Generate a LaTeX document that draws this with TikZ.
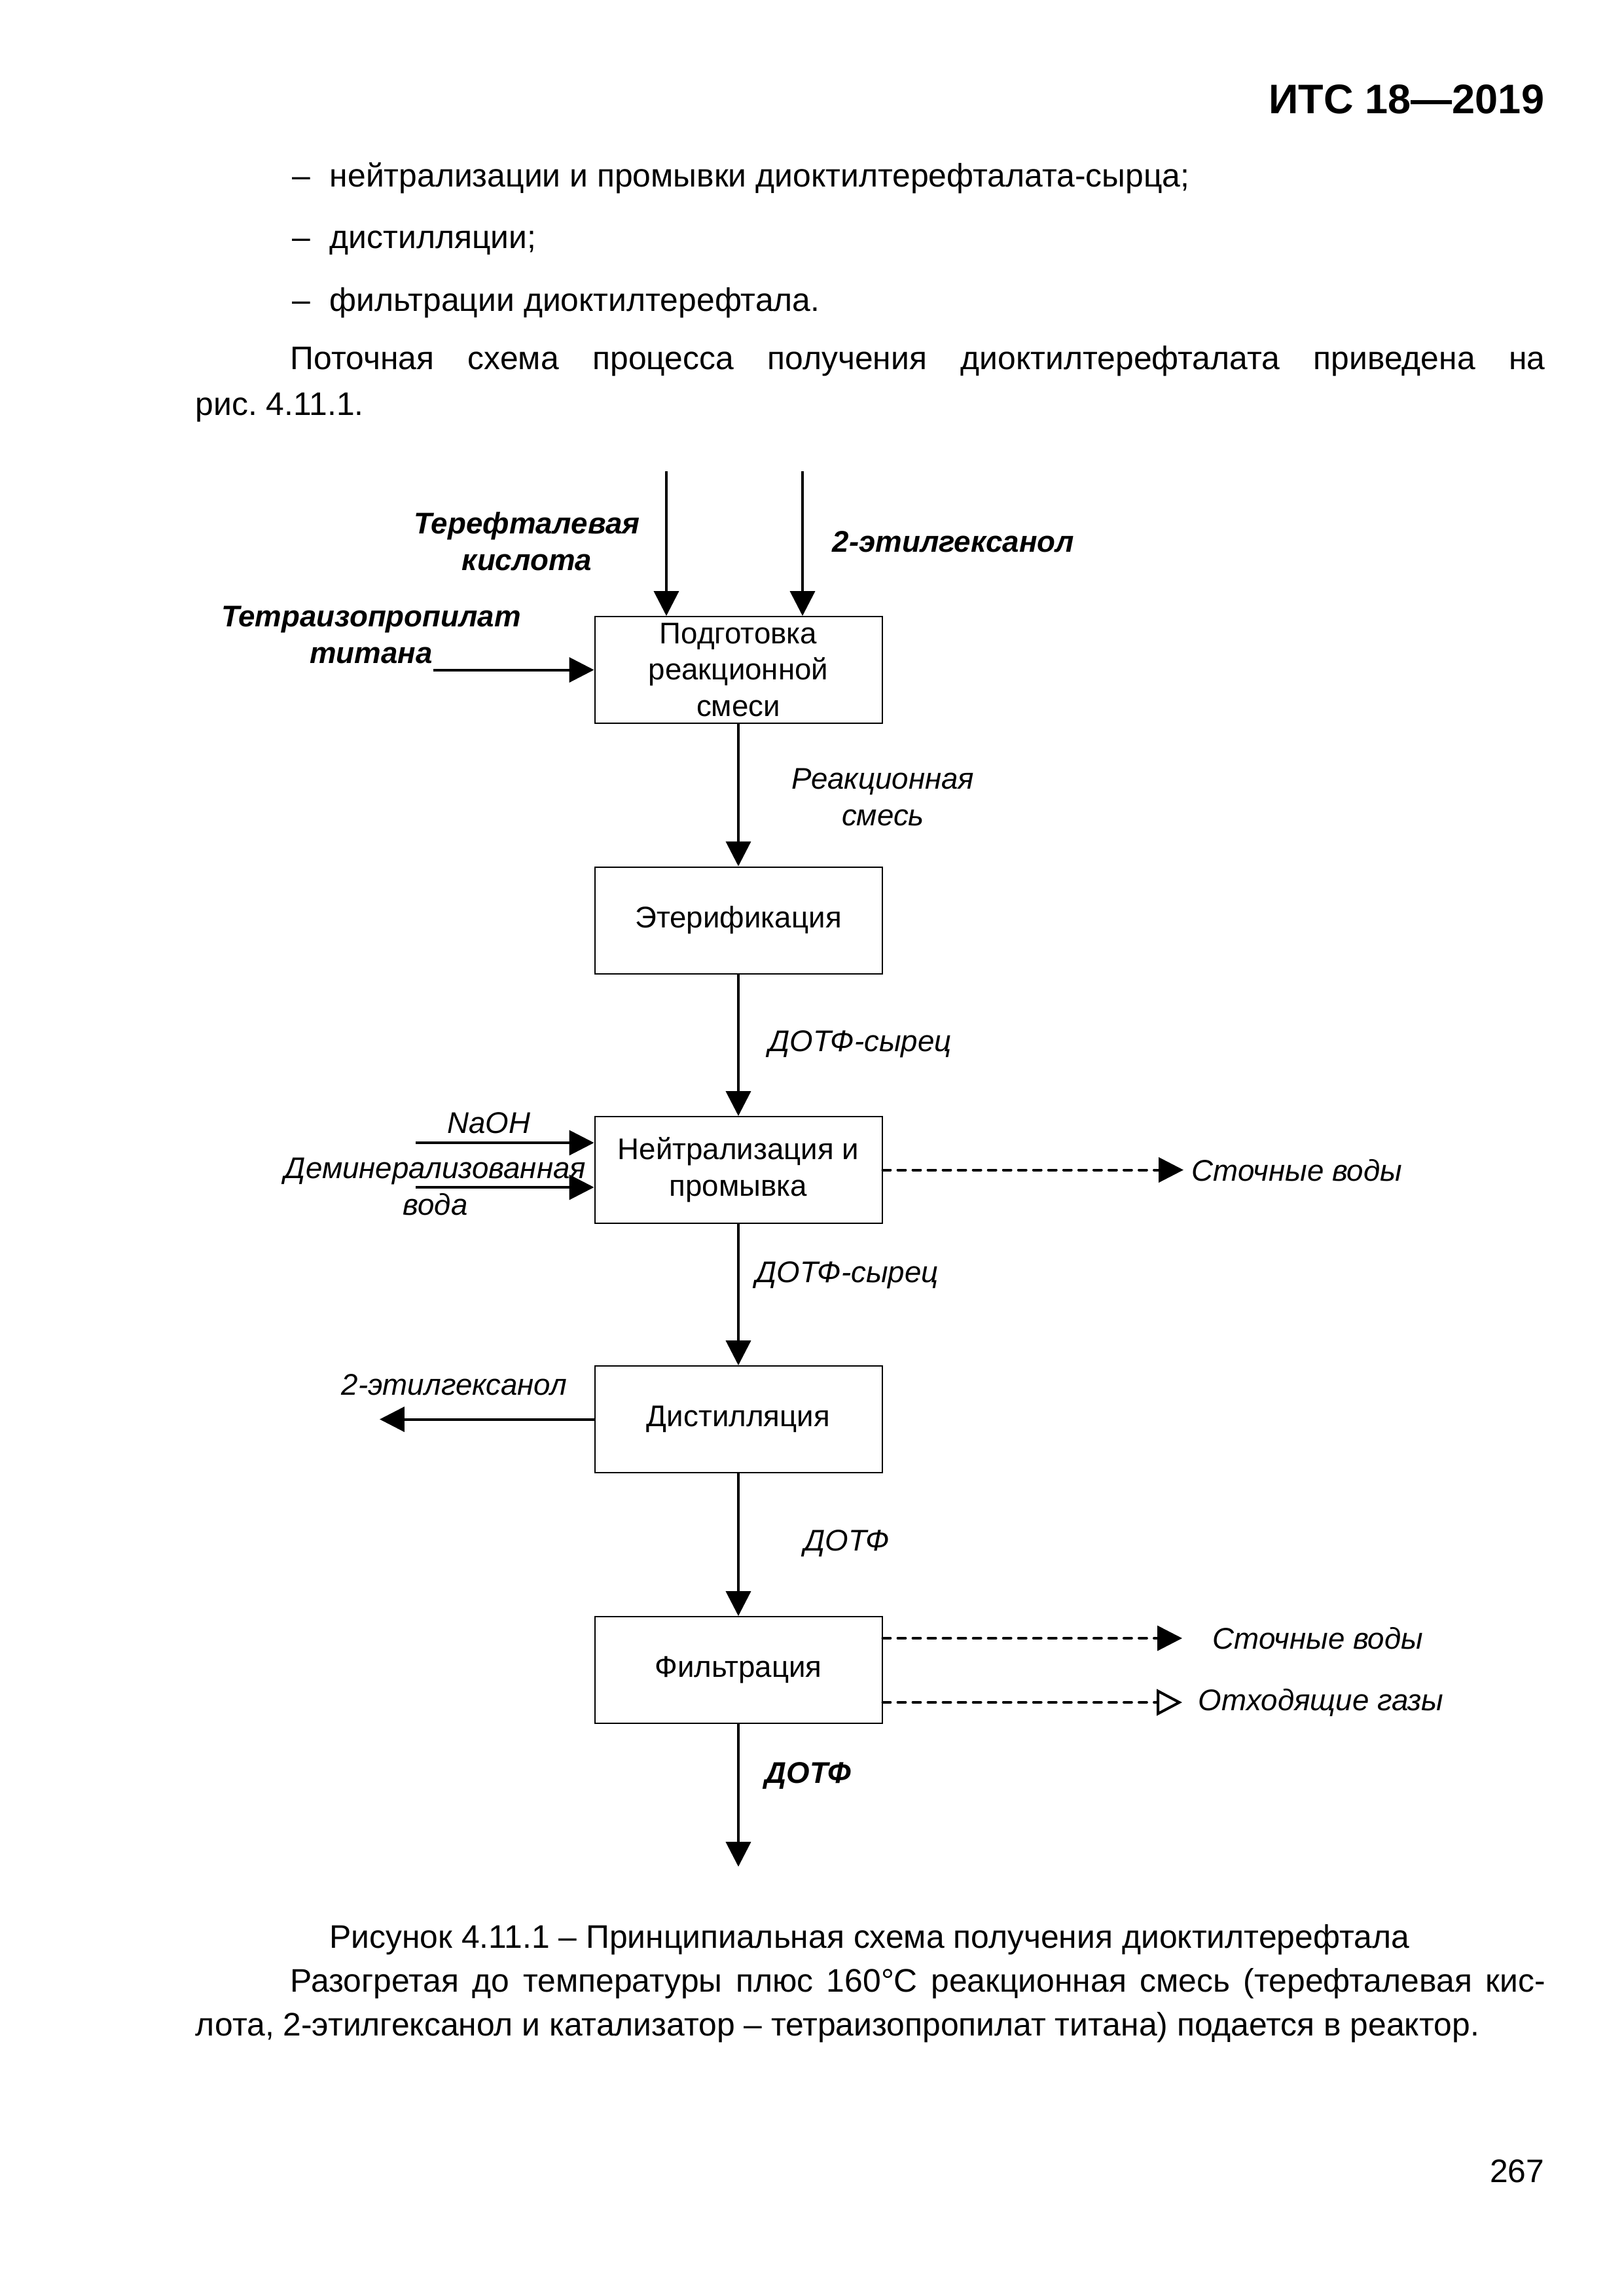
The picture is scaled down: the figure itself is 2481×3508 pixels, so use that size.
\documentclass[tikz,border=0pt]{standalone}
\usepackage{fontspec}
\setmainfont{Liberation Sans}
\usetikzlibrary{arrows.meta}
\frenchspacing
\begin{document}
\begin{tikzpicture}[x=0.08467mm, y=-0.08467mm,
  body/.style={font=\fontsize{12}{14}\selectfont, inner sep=0pt, text height=8.6pt, text depth=2.5pt},
  box/.style={draw, line width=0.17mm, minimum width=37.17mm, minimum height=13.8mm, align=center, inner sep=0pt, font=\fontsize{11}{13.4}\selectfont},
  lab/.style={font=\fontsize{11}{13.4}\selectfont\itshape, inner sep=0pt, align=center},
  blab/.style={font=\fontsize{11}{13.4}\selectfont\bfseries\itshape, inner sep=0pt, align=center},
  arr/.style={line width=0.34mm, -{Triangle[length=3.2mm, width=3.2mm]}},
  dsh/.style={line width=0.34mm, line cap=round, dash pattern=on 1.0mm off 0.95mm, -{Triangle[length=3.2mm, width=3.2mm]}},
  dsho/.style={line width=0.34mm, line cap=round, dash pattern=on 1.0mm off 0.95mm, -{Triangle[open, length=3.3mm, width=3.4mm, line width=0.34mm]}}
]
\useasboundingbox[fill=white] (0,0) rectangle (2481,3508);

% page text
\node[anchor=east, inner sep=0pt, font=\fontsize{15.2}{18}\selectfont\bfseries] (hdr) at (2360,152) {ИТС 18—2019};
\node[body, anchor=west] (d1) at (446,273) {–};
\node[body, anchor=west] (l1) at (503,273) {нейтрализации и промывки диоктилтерефталата-сырца;};
\node[body, anchor=west] (d2) at (446,367) {–};
\node[body, anchor=west] (l2) at (503,367) {дистилляции;};
\node[body, anchor=west] (d3) at (446,463) {–};
\node[body, anchor=west] (l3) at (503,463) {фильтрации диоктилтерефтала.};
\node[body, anchor=west] (p1) at (443,552) {\makebox[162.3mm][s]{Поточная схема процесса получения диоктилтерефталата приведена на}};
\node[body, anchor=west] (p2) at (298,622) {рис. 4.11.1.};

% boxes
\node[box] (b1) at (1128,1023.5) {Подготовка\\реакционной\\смеси};
\node[box] (b2) at (1128,1406) {Этерификация};
\node[box] (b3) at (1128,1787.5) {Нейтрализация и\\промывка};
\node[box] (b4) at (1128,2168.5) {Дистилляция};
\node[box] (b5) at (1128,2551.5) {Фильтрация};

% free ends
\coordinate (t1) at (1018,720);
\coordinate (t2) at (1226,720);
\coordinate (t3) at (662,1023.5);
\coordinate (n1) at (635,1746);
\coordinate (n2) at (635,1814);
\coordinate (s1) at (1808,1787.5);
\coordinate (dl) at (580,2168.5);
\coordinate (s2) at (1806,2503);
\coordinate (s3) at (1806,2601);
\coordinate (e1) at (1128,2852);

% connectors
\draw[arr] (t1) -- (t1 |- b1.north);
\draw[arr] (t2) -- (t2 |- b1.north);
\draw[arr] (t3) -- (b1.west);
\draw[arr] (b1.south) -- (b2.north);
\draw[arr] (b2.south) -- (b3.north);
\draw[arr] (n1) -- (n1 -| b3.west);
\draw[arr] (n2) -- (n2 -| b3.west);
\draw[dsh] (b3.east) -- (s1);
\draw[arr] (b3.south) -- (b4.north);
\draw[arr] (b4.west) -- (dl);
\draw[arr] (b4.south) -- (b5.north);
\draw[dsh] (s2 -| b5.east) -- (s2);
\draw[dsho] (s3 -| b5.east) -- (s3);
\draw[arr] (b5.south) -- (e1);

% labels
\node[blab] (lt) at (805,827) {Терефталевая\\кислота};
\node[blab, anchor=west] (le) at (1271,828) {2-этилгексанол};
\node[blab] (lti) at (567,970) {Тетраизопропилат\\титана};
\node[lab] (lr) at (1349,1218) {Реакционная\\смесь};
\node[lab, anchor=west] (ld1) at (1174,1595) {ДОТФ-сырец};
\node[lab] (lna) at (747,1716) {NaOH};
\node[lab] (ldw) at (665,1813) {Деминерализованная\\вода};
\node[lab, anchor=west] (ls1) at (1820,1788) {Сточные воды};
\node[lab, anchor=west] (ld2) at (1154,1948) {ДОТФ-сырец};
\node[lab, anchor=west] (le2) at (521,2116) {2-этилгексанол};
\node[lab, anchor=west] (ld3) at (1228,2358) {ДОТФ};
\node[lab, anchor=west] (ls2) at (1852,2503) {Сточные воды};
\node[lab, anchor=west] (lg) at (1830,2601) {Отходящие газы};
\node[blab, anchor=west] (ld4) at (1168,2713) {ДОТФ};

% caption and text
\node[body] (cap) at (1328,2964) {Рисунок 4.11.1 – Принципиальная схема получения диоктилтерефтала};
\node[body, anchor=west] (q1) at (443,3031) {\makebox[162.3mm][s]{Разогретая до температуры плюс 160°С реакционная смесь (терефталевая кис-}};
\node[body, anchor=west] (q2) at (298,3098) {лота, 2-этилгексанол и катализатор – тетраизопропилат титана) подается в реактор.};
\node[body, anchor=east] (pg) at (2360,3322) {267};
\end{tikzpicture}
\end{document}
